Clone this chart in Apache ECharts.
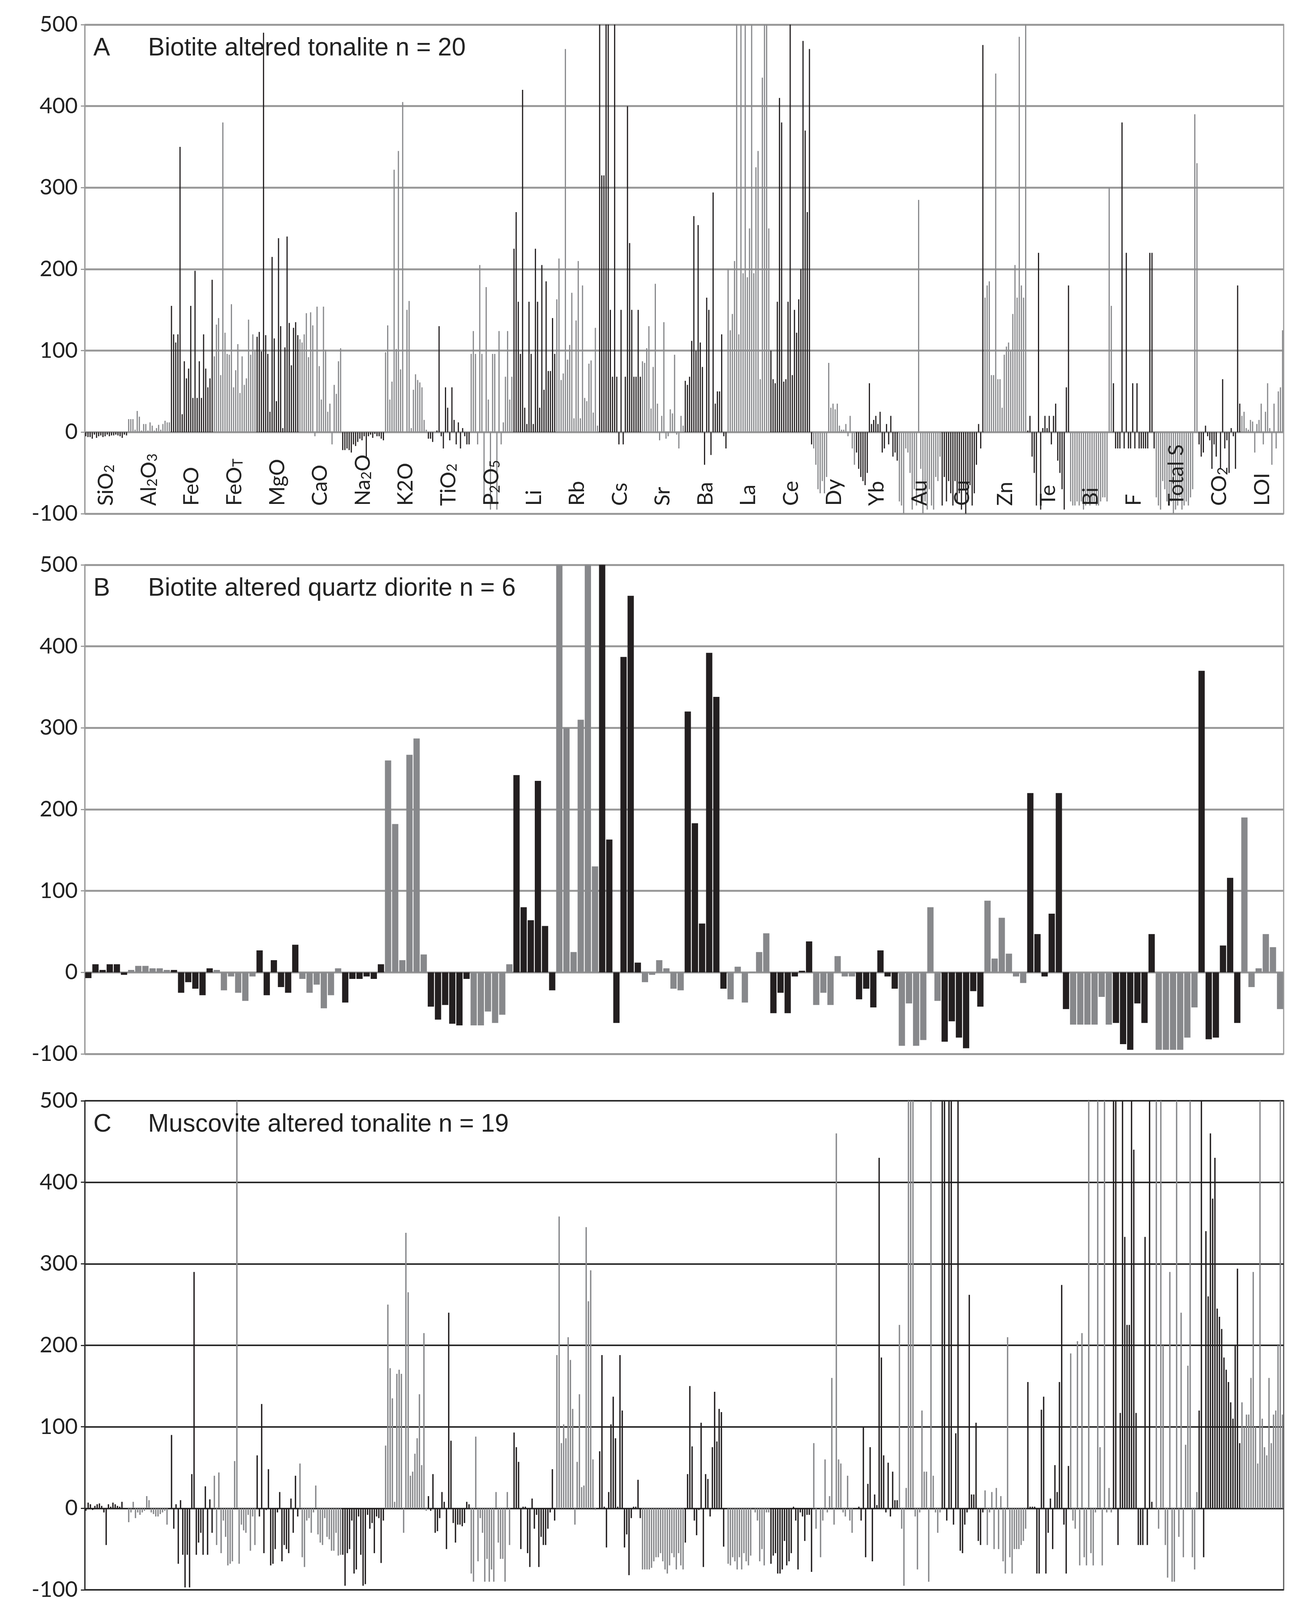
<!DOCTYPE html>
<html><head><meta charset="utf-8">
<script src="https://cdn.jsdelivr.net/npm/echarts@6/dist/echarts.min.js"></script>
<style>html,body{margin:0;padding:0;background:#fff}#c{width:3356px;height:5516px}</style>
</head><body><div id="c"></div>
<script>
const elements = ['SiO2','Al2O3','FeO','FeOT','MgO','CaO','Na2O','K2O','TiO2','P2O5','Li','Rb','Cs','Sr','Ba','La','Ce','Dy','Yb','Au','Cu','Zn','Te','Bi','F','Total S','CO2','LOI'];
const yTicks = [-100,0,100,200,300,400,500];
const titles = ['Biotite altered tonalite n = 20','Biotite altered quartz diorite n = 6','Muscovite altered tonalite n = 19','Muscovite altered quartz diorite n = 5'];
const letters = ['A','B','C','D'];

const panelA = [
[-5,-6,-6,-8,-3,-7,-5,-4,-6,-5,-3,-5,-4,-4,-3,-4,-5,-7,-3,-4],
[16,16,16,3,26,19,2,10,10,2,12,8,2,5,9,3,10,14,12,12],
[155,120,110,120,350,22,87,66,78,155,42,198,42,87,42,120,78,55,66,187],
[93,132,140,70,380,122,96,95,157,55,76,108,48,93,58,66,138,95,120,100],
[117,123,99,490,119,96,25,215,115,38,238,130,5,104,240,134,82,128,135,119],
[114,110,120,146,92,147,131,-5,154,81,40,154,101,25,35,-15,58,47,87,103],
[-22,-22,-20,-22,-25,-15,-17,-12,-8,-10,-5,-30,-5,-3,-7,-2,-5,-5,-8,-10],
[98,131,40,62,322,102,345,77,405,0,150,161,5,52,71,64,61,55,15,3],
[-8,-8,-12,0,2,130,-5,-20,55,30,-10,55,15,-15,12,-20,5,-5,-15,-15],
[96,124,96,-15,205,96,-85,178,40,-95,96,96,-95,124,-15,12,68,124,40,68],
[225,270,160,96,420,30,10,160,96,10,225,160,30,205,52,185,75,75,140,96],
[163,213,64,72,470,89,107,171,17,137,210,17,180,42,38,84,88,24,128,8],
[500,315,315,500,500,150,68,500,68,-15,150,-15,68,400,232,150,68,68,150,68],
[87,85,103,130,29,80,182,35,-10,20,135,-8,-5,28,23,95,-3,-20,20,8],
[63,58,68,112,265,100,254,110,80,-40,165,150,-28,294,35,50,50,120,-5,-20],
[200,125,145,210,500,120,500,195,500,190,250,500,195,325,345,65,435,500,500,250],
[100,65,60,160,410,380,62,65,160,500,70,150,122,163,200,480,370,270,470,-15],
[-20,-40,-70,-75,-60,-75,-55,85,30,35,28,35,8,3,3,10,-5,20,-20,-40],
[-25,-45,-55,-60,-65,-50,60,10,15,20,10,25,-25,-20,10,-15,20,-30,-25,-35],
[-85,-90,-100,-20,-25,-50,-95,-70,-90,285,-45,-100,-85,-95,-70,-90,-95,-55,-60,-30],
[-90,-55,-85,-60,-75,-90,-60,-85,-75,-95,-70,-100,-85,-65,-90,-75,-40,10,-20,475],
[165,180,185,70,70,440,65,65,30,95,105,110,100,145,205,165,485,180,165,500],
[2,20,-30,-50,-90,220,-95,5,20,5,20,-15,20,35,-35,-50,-70,-95,55,180],
[-85,-90,-90,-85,-90,-85,-95,-90,-85,-90,-85,-85,-90,-90,-85,-80,-80,-85,300,155],
[60,-20,-20,-20,380,-20,220,-20,-20,60,-20,60,-20,-20,-20,-20,-20,220,220,-20],
[-80,-90,-95,-60,-70,-85,-90,-85,-100,-95,-90,-80,-95,-90,-85,-90,-80,-70,390,330],
[-15,-30,-25,8,-5,-10,-45,-15,-30,0,-45,65,-20,-10,-50,5,-5,-45,180,35],
[20,25,5,3,15,13,-25,10,15,35,-15,25,60,5,-40,35,-20,50,55,125]];

const panelB = [
[-7,10,3,10,10,-3],[3,8,8,5,5,3],[3,-25,-12,-20,-28,5],[3,-22,-5,-25,-35,-5],
[27,-28,15,-18,-25,34],[-8,-25,-15,-44,-28,5],[-37,-8,-8,-5,-8,10],[260,182,15,267,287,22],
[-42,-58,-40,-63,-65,-8],[-65,-65,-48,-62,-52,10],[242,80,64,235,57,-22],[500,300,25,310,500,130],
[500,163,-62,387,462,12],[-12,-3,15,5,-20,-22],[320,183,60,392,338,-20],[-33,7,-37,1,25,48],
[-50,-25,-50,-5,2,38],[-40,-25,-40,20,-5,-5],[-33,-20,-43,27,-5,-20],[-90,-38,-90,-83,80,-35],
[-85,-60,-80,-93,-23,-42],[88,17,67,23,-5,-13],[220,47,-5,72,220,-45],[-64,-64,-64,-64,-30,-64],
[-62,-88,-95,-38,-62,47],[-95,-95,-95,-95,-80,-43],[370,-82,-80,33,116,-62],[190,-18,5,47,31,-45]];

const panelC = [
[-3,7,5,-2,3,5,6,3,-5,-45,5,2,7,5,3,2,8,0,0],
[-17,-5,8,-12,-5,-8,-5,-3,15,10,-5,-7,-10,-10,-7,-5,-3,-20,0],
[90,-25,5,-68,10,-57,-97,-57,-97,42,290,-57,-42,-30,-57,27,-57,11,-30],
[40,-45,44,-55,-15,-35,-70,-68,-65,58,500,-68,-20,-27,-30,-8,-52,-10,-45],
[65,-10,128,-55,-2,48,-70,-68,-50,-5,20,-65,-45,-50,-55,12,-30,40,-10],
[55,-60,-72,-15,-12,-30,-5,28,-32,-42,-45,-12,-35,-38,-52,-52,-30,-58,-57],
[-57,-95,-55,-50,-15,-80,-75,-10,-57,-95,-93,-8,-25,-18,-55,-10,-12,-67,-15],
[77,250,172,135,8,165,170,165,-30,338,265,40,45,67,86,140,53,215,-3],
[15,-3,42,-30,-28,-12,20,8,-50,240,83,-18,-42,-20,-20,-22,-18,8,5],
[-80,-90,88,-65,-12,-30,-90,-62,-90,-75,-90,20,-42,-62,-62,-90,20,-45,0],
[93,75,57,-50,2,2,-55,-72,12,-25,-8,-72,-35,-45,-45,-25,-5,48,-15],
[188,358,80,103,86,210,182,122,-20,57,140,26,28,345,254,292,60,-2,0],
[70,188,2,-48,20,103,137,86,2,188,120,-48,-32,-82,-12,2,2,35,-12],
[-75,-75,-75,-75,-73,-65,-60,-60,-55,-65,-75,-80,-70,-55,-60,-75,-55,-70,-75],
[-42,42,150,76,-15,-33,-2,105,-72,42,36,-10,75,143,82,122,118,-47,0],
[-68,-70,-60,-65,-75,-60,-75,-55,-65,-70,-58,1,-5,-15,-65,-50,-70,-5,-5],
[-68,-58,-55,-80,-80,-75,-40,-70,-65,-55,2,-15,-75,-5,-10,-40,-8,-8,-78],
[80,-25,0,-60,-15,60,-5,15,160,-20,460,60,55,-5,-10,40,-15,-30,0],
[0,2,-15,100,-60,30,75,-65,17,4,430,185,65,-5,56,-10,45,10,10],
[225,-25,-95,25,500,500,500,-10,-75,-5,120,45,45,-90,500,40,-5,-30,-5],
[500,500,-15,500,500,-20,92,500,-52,-55,-20,-5,262,17,17,105,-40,-45,-5],
[22,-45,-5,20,-50,25,-50,15,-65,-80,210,-60,-80,-50,-50,-50,-45,-40,-25],
[155,2,2,2,-80,-80,121,137,-80,-30,12,-50,53,20,155,274,-20,-80,52],
[190,-15,-25,205,-70,215,-60,-70,500,-55,-70,-5,500,75,-70,500,-5,25,-5],
[500,500,-45,117,500,333,225,225,500,440,117,-45,-45,-45,333,-45,500,8,0],
[500,-25,500,200,-45,-85,290,-90,-90,500,-35,240,-60,78,175,500,-60,-75,20],
[120,500,-60,340,260,460,380,430,245,235,220,185,170,155,130,110,200,294,80],
[130,100,115,115,160,290,100,55,500,110,75,65,160,80,115,120,200,500,115]];

const panelD = [
[5,-2,20,23,16],[0,46,-5,-4,2],[-28,-42,-55,-52,-80],[-32,-48,-65,-65,-90],
[-8,48,-70,-68,-96],[-30,-95,-45,-48,-30],[-5,60,14,14,14],[170,437,170,87,311],
[-52,-64,-45,-48,60],[-62,-58,-8,-8,-97],[220,484,-22,1,-68],[237,418,286,270,500],
[50,237,87,87,50],[-5,-40,-40,-42,-60],[155,500,317,93,22],[-35,-90,2,-23,100],
[-52,-90,25,-2,275],[-47,-60,20,65,500],[-38,-44,22,72,500],[50,54,32,500,-50],
[-70,-98,-78,362,-2],[0,-40,164,-50,-100],[33,274,-86,500,-86],[-64,96,-15,500,-15],
[-93,-26,-38,-50,-26],[-13,350,-52,205,33],[280,-72,317,181,400],[162,87,100,50,119]];

const panels = [panelA, panelB, panelC, panelD];
const DARK = '#231f20', GRAY = '#87888b';
const tops = [63, 1446, 2818, 4186];
const gridH = 1252;
const gridLineColors = ['#9a9a9a','#9a9a9a','#2a2a2a','#2a2a2a'];
const gaps = ['45%','12%','40%','12%'];

const labelRich = {
  n:{fontSize:54,fontFamily:'Lato',color:'#222'},
  s:{fontSize:36,fontFamily:'Lato',color:'#222',verticalAlign:'bottom',padding:[0,0,0,0]}
};
function fmt(name){
  const m = {'SiO2':'{n|SiO}{s|2}','Al2O3':'{n|Al}{s|2}{n|O}{s|3}','FeOT':'{n|FeO}{s|T}','Na2O':'{n|Na}{s|2}{n|O}','TiO2':'{n|TiO}{s|2}','P2O5':'{n|P}{s|2}{n|O}{s|5}','CO2':'{n|CO}{s|2}'};
  return m[name] || ('{n|' + name + '}');
}

const grid=[], xAxis=[], yAxis=[], series=[], title=[];
panels.forEach((p,i)=>{
  grid.push({left:217,right:70,top:tops[i],height:gridH,show:true,borderColor:i<2?'#9a9a9a':'#555',borderWidth:3,backgroundColor:'#fff'});
  const data=[], cats=[];
  p.forEach((arr,g)=>arr.forEach((v,k)=>{cats.push(g+'_'+k);data.push({value:v,itemStyle:{color:g%2===0?DARK:GRAY}});}));
  xAxis.push({type:'category',gridIndex:i,data:cats,axisLine:{show:false},axisTick:{show:false},axisLabel:{show:false},splitLine:{show:false}});
  yAxis.push({type:'value',gridIndex:i,min:-100,max:500,interval:100,
    axisLine:{show:true,lineStyle:{color:gridLineColors[i],width:3}},axisTick:{show:true,length:10,lineStyle:{color:gridLineColors[i],width:3}},
    axisLabel:{fontSize:56,fontFamily:'Lato',color:'#222',margin:18},
    splitLine:{lineStyle:{color:gridLineColors[i],width:i<2?5:4}}});
  series.push({type:'bar',xAxisIndex:i,yAxisIndex:i,data:data,barCategoryGap:gaps[i],clip:true,animation:false,z:3});
  title.push({text:letters[i],left:234,top:tops[i]+24,textStyle:{fontSize:64,fontWeight:'normal',fontFamily:'Liberation Sans Narrow, Liberation Sans',color:'#222'}});
  title.push({text:titles[i],left:374,top:tops[i]+24,textStyle:{fontSize:64,fontWeight:'normal',fontFamily:'Liberation Sans Narrow, Liberation Sans',color:'#222'}});
});
// element labels for panel A
xAxis.push({type:'category',gridIndex:0,position:'bottom',data:elements,axisLine:{show:false},axisTick:{show:false},splitLine:{show:false},
  axisLabel:{inside:true,rotate:90,interval:0,margin:20,formatter:fmt,rich:labelRich}, z:10});

echarts.init(document.getElementById('c'),null,{renderer:'canvas'}).setOption({
  backgroundColor:'#fff',animation:false,title,grid,xAxis,yAxis,series
});
</script></body></html>
